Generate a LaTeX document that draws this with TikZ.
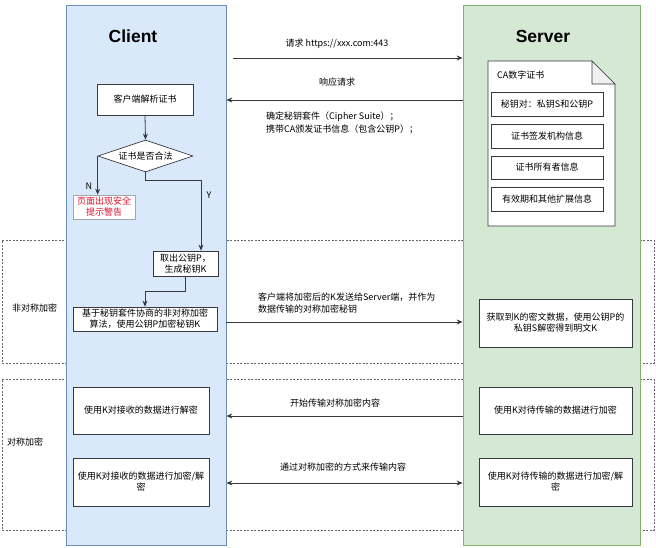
\documentclass[tikz,border=0pt]{standalone}
\usepackage{fontspec}
\setmainfont{Noto Sans CJK SC}
\newfontfamily\titlefont{Liberation Sans}
\usetikzlibrary{shapes.geometric,arrows.meta}
\definecolor{cfill}{HTML}{DAE8FC}
\definecolor{cline}{HTML}{6C8EBF}
\definecolor{sfill}{HTML}{D5E8D4}
\definecolor{sline}{HTML}{82B366}
\definecolor{boxline}{HTML}{36393D}
\definecolor{warnred}{HTML}{E0102F}
\begin{document}
\begin{tikzpicture}[x=1pt,y=-1pt,
  font=\fontsize{9}{11}\selectfont,
  region/.style={draw=gray!80!black, dash pattern=on 2pt off 1.5pt, line width=0.7pt, inner sep=0pt},
  ccol/.style={draw=cline, fill=cfill, line width=0.7pt, inner sep=0pt},
  scol/.style={draw=sline, fill=sfill, line width=0.7pt, inner sep=0pt},
  bx/.style={draw=boxline, fill=white, line width=0.7pt, align=center, inner sep=1pt},
  ttl/.style={font=\titlefont\bfseries\fontsize{17.5}{20}\selectfont},
  lbl/.style={inner sep=0pt, align=center},
  conn/.style={draw=boxline, line width=0.8pt},
  arr/.style={conn, -{Stealth[length=6pt,width=5pt]}},
  darr/.style={conn, {Stealth[length=6pt,width=5pt]}-{Stealth[length=6pt,width=5pt]}}]
\useasboundingbox (0,0) rectangle (656,547);
% dashed regions
\node[region, minimum width=652pt, minimum height=123pt] (asym) at (328,301.5) {};
\node[region, minimum width=652pt, minimum height=151pt] (sym) at (328,454.5) {};
\node[lbl, anchor=west] (asymlbl) at (12,308) {非对称加密};
\node[lbl, anchor=west] (symlbl) at (7,442) {对称加密};
% columns
\node[ccol, minimum width=160pt, minimum height=540pt] (client) at (146,275) {};
\node[scol, minimum width=177pt, minimum height=540pt] (server) at (551.5,275) {};
\node[ttl] (ctitle) at (133,36) {Client};
\node[ttl] (stitle) at (543,36) {Server};
% client flow
\node[bx, minimum width=96pt, minimum height=31pt] (parse) at (145,99.5) {客户端解析证书};
\node[bx, diamond, shape aspect=3, inner sep=0pt, minimum width=95pt, minimum height=32pt] (dia) at (145.5,156) {证书是否合法};
\node[bx, draw=gray!70, text=warnred, minimum width=62pt, minimum height=24pt, inner sep=0pt] (warn) at (104,207) {页面出现安全\\提示警告};
\node[bx, minimum width=65pt, minimum height=25pt, inner sep=0pt] (kbox) at (185.5,263.5) {取出公钥P，\\生成秘钥K};
\node[bx, minimum width=144pt, minimum height=24pt, inner sep=0pt] (enc) at (145,319) {基于秘钥套件协商的非对称加密\\算法，使用公钥P加密秘钥K};
\draw[arr] (parse.south) -- (dia.north);
\draw[arr] (dia.west) -- (dia.west |- warn.north);
\draw[arr] (dia.south) -- ++(0,8) -| ([xshift=15.5pt]kbox.north);
\draw[arr] (kbox.south) -- ++(0,15) -| (enc.north);
\node[lbl] (nlbl) at (89,186) {N};
\node[lbl] (ylbl) at (209,195) {Y};
% CA document
\coordinate (d1) at (488,61);
\coordinate (d2) at (592,61);
\coordinate (d3) at (615,84);
\coordinate (d4) at (615,226);
\coordinate (d5) at (488,226);
\coordinate (d6) at (592,84);
\draw[boxline, fill=white, line width=0.7pt] (d1) -- (d2) -- (d3) -- (d4) -- (d5) -- cycle;
\draw[boxline, fill=gray!12, line width=0.7pt] (d2) -- (d6) -- (d3) -- cycle;
\node[lbl, anchor=west] (catitle) at (497,75) {CA数字证书};
\node[bx, minimum width=112pt, minimum height=24pt] (c1) at (547,104) {秘钥对：私钥S和公钥P};
\node[bx, minimum width=112pt, minimum height=24pt] (c2) at (547,136) {证书签发机构信息};
\node[bx, minimum width=112pt, minimum height=23pt] (c3) at (547,167.5) {证书所有者信息};
\node[bx, minimum width=112pt, minimum height=24pt] (c4) at (547,199) {有效期和其他扩展信息};
% server asym box
\node[bx, minimum width=153pt, minimum height=48pt] (dec) at (555.5,323) {获取到K的密文数据，使用公钥P的\\私钥S解密得到明文K};
% symmetric boxes
\node[bx, minimum width=136pt, minimum height=47pt] (sa) at (141,410.5) {使用K对接收的数据进行解密};
\node[bx, minimum width=136pt, minimum height=48pt] (sb) at (141,482) {使用K对接收的数据进行加密/解\\密};
\node[bx, minimum width=153pt, minimum height=47pt] (sc) at (555.5,410.5) {使用K对待传输的数据进行加密};
\node[bx, minimum width=153pt, minimum height=48pt] (sd) at (555.5,482) {使用K对待传输的数据进行加密/解\\密};
% messages
\coordinate (reqS) at (233,58);
\draw[arr] (reqS) -- (server.west |- reqS);
\node[lbl] (reqlbl) at (337,44) {请求 https://xxx.com:443};
\coordinate (respY) at (400,100);
\draw[arr] (server.west |- respY) -- (client.east |- respY);
\node[lbl] (resplbl) at (337,82) {响应请求};
\node[lbl, anchor=west, align=left, font=\fontsize{9}{13}\selectfont] (cslbl) at (266,122.5) {确定秘钥套件（Cipher Suite）；\\携带CA颁发证书信息（包含公钥P）；};
\coordinate (encY) at (400,322);
\draw[arr] (client.east |- encY) -- (server.west |- encY);
\node[lbl, anchor=west, align=left, font=\fontsize{9}{12}\selectfont] (enclbl) at (258,303) {客户端将加密后的K发送给Server端，并作为\\数据传输的对称加密秘钥};
\coordinate (symY) at (400,416);
\draw[arr] (server.west |- symY) -- (client.east |- symY);
\node[lbl] (symstart) at (335,403) {开始传输对称加密内容};
\coordinate (sym2Y) at (400,483);
\draw[darr] (client.east |- sym2Y) -- (server.west |- sym2Y);
\node[lbl] (symtrans) at (343,467) {通过对称加密的方式来传输内容};
\end{tikzpicture}
\end{document}
